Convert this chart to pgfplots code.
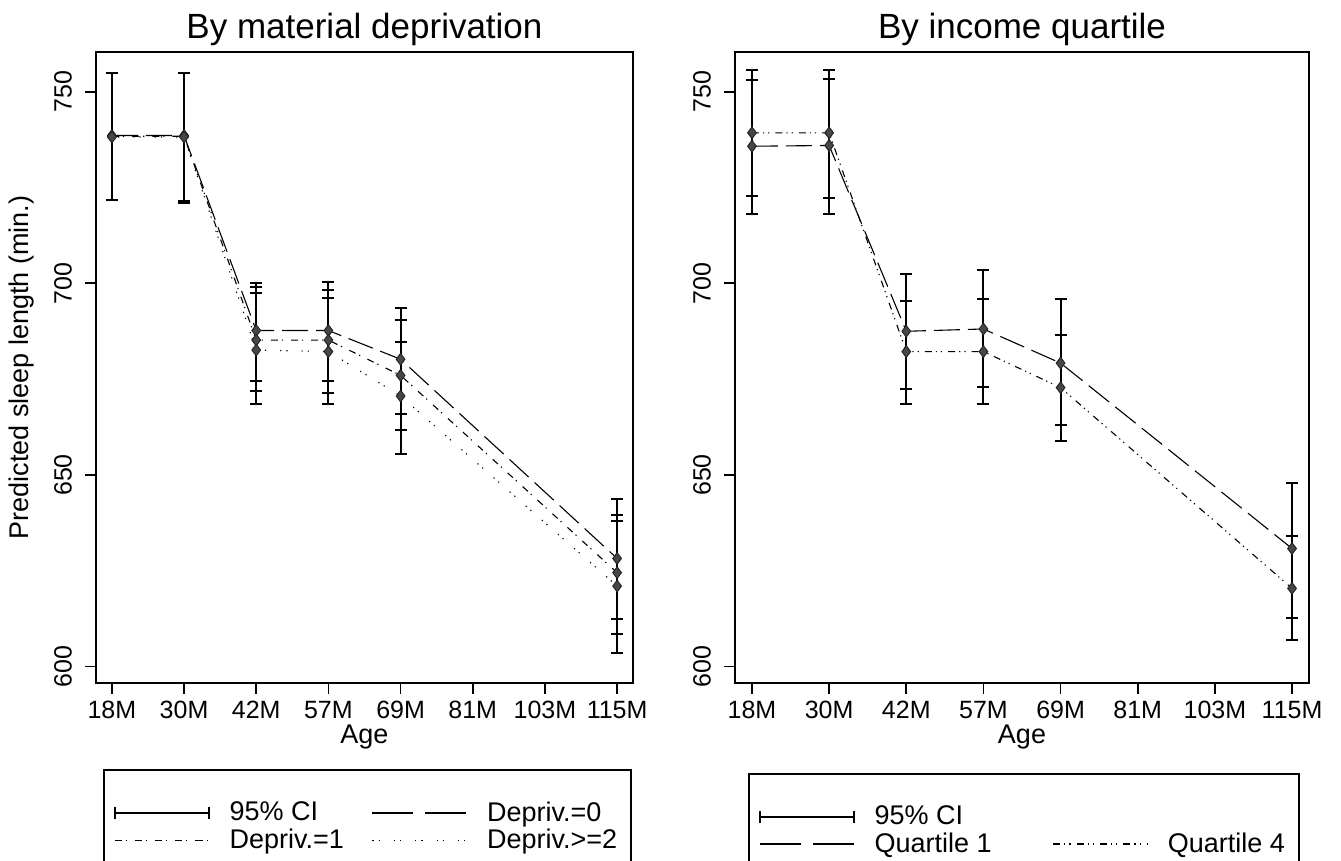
\documentclass[border=0pt]{standalone}
\usepackage{fontspec}
\setmainfont{Liberation Sans}
\usepackage{pgfplots}
\pgfplotsset{compat=1.18}
\usepackage{pgfplotstable}

% columns: category index, estimate, lower CI, upper CI
\pgfplotstableread{
x y lo hi
0 738.6 721.7 755.0
1 738.6 721.1 755.0
2 687.7 674.5 700.0
3 687.7 674.5 700.4
4 680.2 665.8 693.5
7 628.2 612.5 643.7
}\deprivA
\pgfplotstableread{
x y lo hi
0 738.4 721.7 755.0
1 738.4 721.1 754.8
2 685.2 672.0 699.0
3 685.2 671.5 698.3
4 676.0 661.7 690.4
7 624.5 608.6 639.6
}\deprivB
\pgfplotstableread{
x y lo hi
0 738.2 721.7 755.0
1 738.2 721.5 754.9
2 682.6 668.4 697.6
3 682.2 668.4 696.1
4 670.6 655.5 684.8
7 621.0 603.6 637.9
}\deprivC
\pgfplotstableread{
x y lo hi
0 735.8 718.0 753.0
1 736.0 718.0 753.4
2 687.5 672.5 702.5
3 688.1 673.0 703.4
4 679.2 663.1 696.0
7 630.8 612.6 648.0
}\quartA
\pgfplotstableread{
x y lo hi
0 739.3 722.9 755.8
1 739.3 722.3 755.8
2 682.2 668.6 695.4
3 682.2 668.6 696.0
4 672.8 658.8 686.5
7 620.4 606.9 634.0
}\quartD

\tikzset{
  longdash/.style={dash pattern=on 13pt off 4pt},
  dashdot/.style={dash pattern=on 3.5pt off 2pt on 0.6pt off 4pt},
  sparsedot/.style={dash pattern=on 0.6pt off 2.5pt on 0.6pt off 7pt},
  dashdotdot/.style={dash pattern=on 3.5pt off 2pt on 0.6pt off 2pt on 0.6pt off 3pt},
}

\pgfplotsset{
  panel/.style={
    scale only axis, height=315.5pt,
    xmin=-0.22, xmax=7.22, ymin=595.7, ymax=760.4,
    xtick={0,...,7},
    xticklabels={18M,30M,42M,57M,69M,81M,103M,115M},
    ytick={600,650,700,750},
    tick align=outside, tick pos=left, major tick length=5.5pt,
    tick style={black, line width=0.9pt},
    axis line style={line width=1pt},
    ticklabel style={font=\fontsize{12.5}{15}\selectfont},
    yticklabel style={rotate=90, anchor=south},
    yticklabel shift=3pt,
    /pgf/number format/assume math mode=true,
    every axis title/.style={font=\fontsize{17.5}{21}\selectfont, anchor=base,
      at={(axis description cs:0.5,1)}, yshift=6.5pt},
    xlabel style={font=\fontsize{13.5}{16}\selectfont, anchor=north,
      at={(axis description cs:0.5,0)}, yshift=-17.5pt},
    xlabel={Age},
    legend columns=2,
    legend cell align=left,
  },
  cibars/.style={draw=none, mark=none, forget plot,
    error bars/.cd, y dir=both, y explicit,
    error bar style={draw=black, solid, line width=1pt},
    error mark options={draw=black, solid, rotate=90, mark size=3pt, line width=1pt}},
  est/.style={black, line width=0.55pt, mark=diamond*, mark size=2.9pt,
    mark options={solid, fill=black!72, draw=black!85, line width=0.5pt}, forget plot},
  ci legend/.style={legend image code/.code={
    \draw[black, line width=0.9pt] (0pt,-3pt) -- (0pt,3pt)
      (0pt,0pt) -- (47pt,0pt) (47pt,-3pt) -- (47pt,3pt);}},
  seg legend/.style={legend image code/.code={
    \draw[##1] (0pt,0pt) -- (47pt,0pt);}},
}

\begin{document}
\begin{tikzpicture}
\useasboundingbox (0,0) rectangle (670.5pt,430.5pt);

% ---- left panel ----
\begin{axis}[panel,
  at={(48pt,89pt)}, anchor=south west, width=268.5pt,
  title={By material deprivation},
  ylabel={Predicted sleep length (min.)},
  ylabel style={font=\fontsize{13.5}{16}\selectfont,
    at={(axis description cs:-0.138,0.5)}, anchor=center},
  legend style={at={(axis description cs:0,0)}, anchor=north west,
    xshift=3.5pt, yshift=-43pt, draw=black, line width=0.8pt,
    font=\fontsize{13.5}{16}\selectfont, inner xsep=5pt, inner ysep=14pt,
    row sep=-1.5pt,
    /tikz/every odd column/.append style={column sep=8pt},
    /tikz/every even column/.append style={column sep=12pt}},
]
  \addplot[cibars] table[x=x, y=y, y error plus expr=\thisrow{hi}-\thisrow{y},
    y error minus expr=\thisrow{y}-\thisrow{lo}] {\deprivA};
  \addplot[cibars] table[x=x, y=y, y error plus expr=\thisrow{hi}-\thisrow{y},
    y error minus expr=\thisrow{y}-\thisrow{lo}] {\deprivB};
  \addplot[cibars] table[x=x, y=y, y error plus expr=\thisrow{hi}-\thisrow{y},
    y error minus expr=\thisrow{y}-\thisrow{lo}] {\deprivC};
  \addplot[est, longdash] table[x=x, y=y] {\deprivA};
  \addplot[est, dashdot] table[x=x, y=y] {\deprivB};
  \addplot[est, sparsedot] table[x=x, y=y] {\deprivC};

  \addlegendimage{ci legend}
  \addlegendentry{95\% CI}
  \addlegendimage{seg legend, black, line width=0.6pt, dash pattern=on 20.5pt off 6pt}
  \addlegendentry{Depriv.=0}
  \addlegendimage{seg legend, black, line width=0.6pt, dashdot}
  \addlegendentry{Depriv.=1}
  \addlegendimage{seg legend, black, line width=0.6pt, sparsedot}
  \addlegendentry{Depriv.>=2}
\end{axis}

% ---- right panel ----
\begin{axis}[panel,
  at={(367.5pt,89pt)}, anchor=south west, width=287pt,
  title={By income quartile},
  legend style={at={(axis description cs:0,0)}, anchor=north west,
    xshift=6.5pt, yshift=-45pt, draw=black, line width=0.8pt,
    font=\fontsize{13.5}{16}\selectfont, inner xsep=5pt, inner ysep=14pt,
    row sep=-1.5pt,
    /tikz/every odd column/.append style={column sep=8pt},
    /tikz/every even column/.append style={column sep=28.5pt}},
]
  \addplot[cibars] table[x=x, y=y, y error plus expr=\thisrow{hi}-\thisrow{y},
    y error minus expr=\thisrow{y}-\thisrow{lo}] {\quartA};
  \addplot[cibars] table[x=x, y=y, y error plus expr=\thisrow{hi}-\thisrow{y},
    y error minus expr=\thisrow{y}-\thisrow{lo}] {\quartD};
  \addplot[est, longdash] table[x=x, y=y] {\quartA};
  \addplot[est, dashdotdot] table[x=x, y=y] {\quartD};

  \addlegendimage{ci legend}
  \addlegendentry{95\% CI}
  \addlegendimage{empty legend}
  \addlegendentry{}
  \addlegendimage{seg legend, black, line width=0.6pt, dash pattern=on 20.5pt off 6pt}
  \addlegendentry{Quartile 1}
  \addlegendimage{seg legend, black, line width=0.6pt, dashdotdot}
  \addlegendentry{Quartile 4}
\end{axis}
\end{tikzpicture}
\end{document}
